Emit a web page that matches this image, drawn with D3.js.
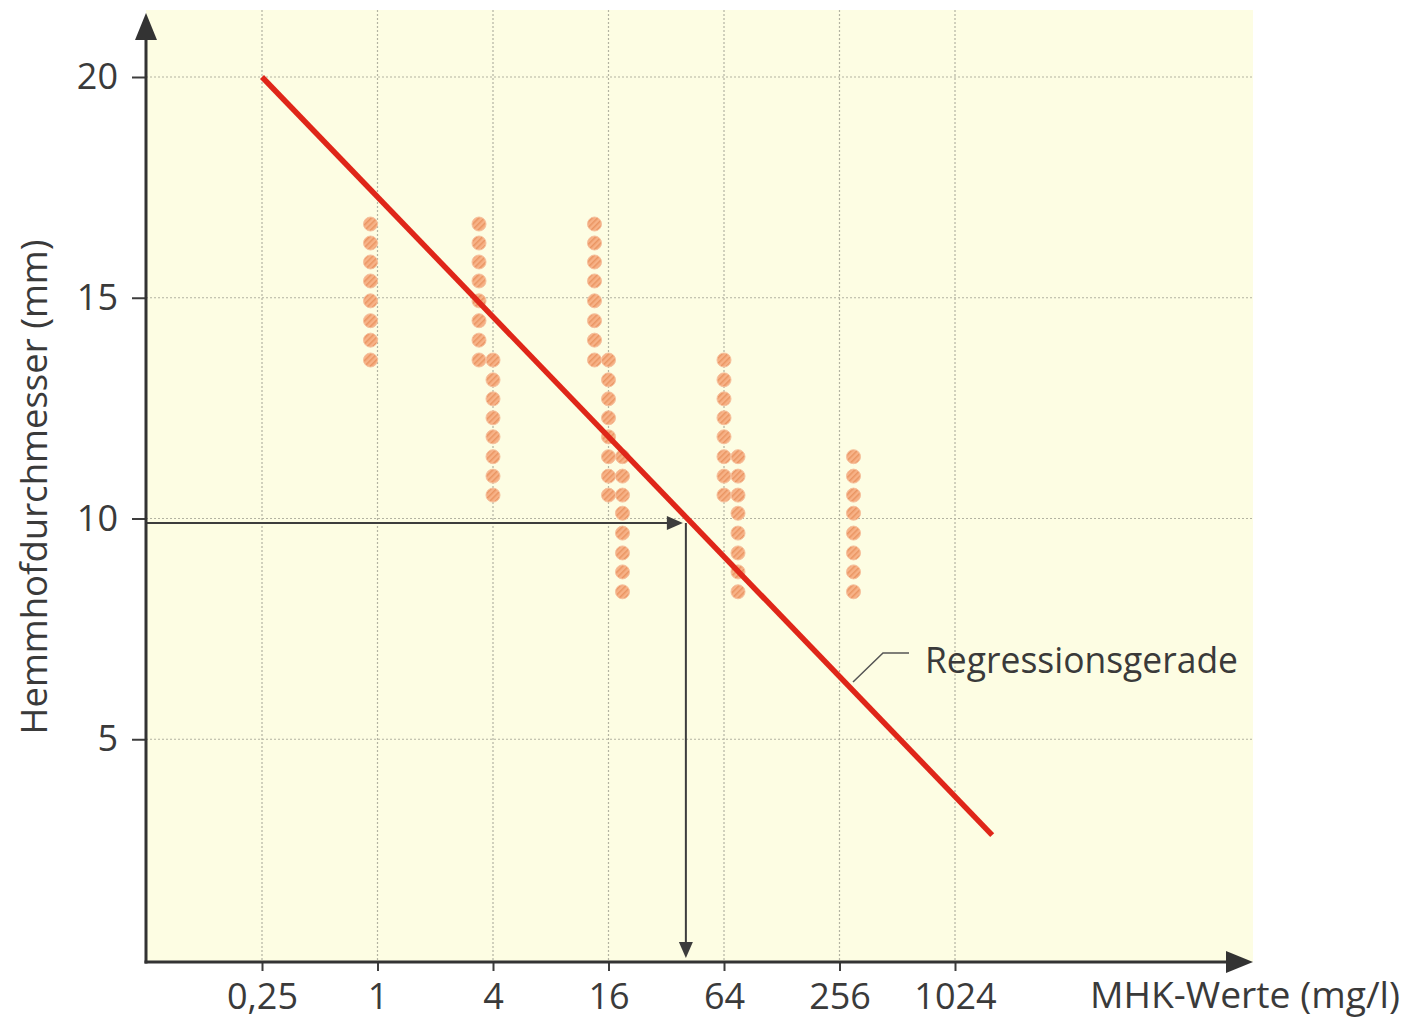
<!DOCTYPE html>
<html>
<head>
<meta charset="utf-8">
<script src="https://cdn.jsdelivr.net/npm/d3@7"></script>
<style>
  html, body { margin: 0; padding: 0; background: #fff; }
  svg { display: block; }
  text { font-family: "Open Sans", "Noto Sans", sans-serif; fill: #3a3a3a; }
</style>
</head>
<body>
<div id="chart"></div>
<script>
// tick values
const mhkTicks = [0.25, 1, 4, 16, 64, 256, 1024]
const diameterTicks = [5, 10, 15, 20]

// dot columns: MHK value, sub-lane beside the gridline, inhibition zone diameters (mm)
const columnMhk = [1, 4, 4, 16, 16, 16, 64, 64, 256]
const columnLane = [-0.5, -1, 0, -1, 0, 1, 0, 1, 1]
const columnDiameters = [
    [16.67, 16.24, 15.81, 15.38, 14.93, 14.48, 14.04, 13.59],
    [16.67, 16.24, 15.81, 15.38, 14.93, 14.48, 14.04, 13.59],
    [13.59, 13.14, 12.71, 12.28, 11.85, 11.40, 10.96, 10.53],
    [16.67, 16.24, 15.81, 15.38, 14.93, 14.48, 14.04, 13.59],
    [13.59, 13.14, 12.71, 12.28, 11.85, 11.40, 10.96, 10.53],
    [11.40, 10.96, 10.53, 10.12, 9.67, 9.22, 8.79, 8.34],
    [13.59, 13.14, 12.71, 12.28, 11.85, 11.40, 10.96, 10.53],
    [11.40, 10.96, 10.53, 10.12, 9.67, 9.22, 8.79, 8.34],
    [11.40, 10.96, 10.53, 10.12, 9.67, 9.22, 8.79, 8.34]
]

// regression line end points
const regressionMhk = [0.25, 1600]
const regressionDiameter = [20, 2.83]

// reading example
const readMhk = 40.5
const readDiameter = 9.9

const width = 1407
const height = 1021
const axisX = 146
const axisY = 962
const panelTop = 10
const panelRight = 1253

const x = d3.scaleLog().base(2)
    .domain([0.25, 1024])
    .range([262, 955])

const y = d3.scaleLinear()
    .domain([0, 20])
    .range([960, 77])

const svg = d3.select("#chart")
    .append("svg")
        .attr("width", width)
        .attr("height", height)

// dot hatching
const defs = svg.append("defs")
const pat = defs.append("pattern")
    .attr("id", "hatch")
    .attr("patternUnits", "userSpaceOnUse")
    .attr("width", 4)
    .attr("height", 4)
    .attr("patternTransform", "rotate(45)")
pat.append("rect").attr("width", 4).attr("height", 4).attr("fill", "#f7b287")
pat.append("rect").attr("width", 1.5).attr("height", 4).attr("fill", "#ea9562")

// panel
svg.append("rect")
    .attr("x", axisX)
    .attr("y", panelTop)
    .attr("width", panelRight - axisX)
    .attr("height", axisY - panelTop)
    .attr("fill", "#fdfde3")

// grid
const grid = svg.append("g").attr("class", "grid")
    .attr("stroke", "#b3b3a2")
    .attr("stroke-width", 1.2)
    .attr("stroke-dasharray", "2,2")

grid.selectAll("line.v")
    .data(mhkTicks)
    .enter()
    .append("line")
    .attr("class", "v")
    .attr("x1", d => x(d)).attr("x2", d => x(d))
    .attr("y1", panelTop).attr("y2", axisY)

grid.selectAll("line.h")
    .data(diameterTicks)
    .enter()
    .append("line")
    .attr("class", "h")
    .attr("x1", axisX).attr("x2", panelRight)
    .attr("y1", d => y(d)).attr("y2", d => y(d))

// dots
const dots = []
columnMhk.forEach((m, i) => {
    columnDiameters[i].forEach(d => dots.push({ mhk: m, lane: columnLane[i], d: d }))
})

svg.append("g")
        .attr("id", "dots")
    .selectAll("circle")
    .data(dots)
    .enter()
    .append("circle")
    .attr("cx", d => x(d.mhk) + d.lane * 14)
    .attr("cy", d => y(d.d))
    .attr("r", 7)
    .attr("fill", "url(#hatch)")
    .attr("stroke", "#f6c09c")
    .attr("stroke-width", 1)

// reading arrows
const ink = "#3d3d3d"
const rx = x(readMhk)
const ry = y(readDiameter)

svg.append("line")
    .attr("x1", axisX).attr("x2", rx - 14)
    .attr("y1", ry).attr("y2", ry)
    .attr("stroke", ink).attr("stroke-width", 2)
svg.append("path")
    .attr("d", `M${rx - 3},${ry} L${rx - 19},${ry - 7} L${rx - 19},${ry + 7} Z`)
    .attr("fill", ink)

svg.append("line")
    .attr("x1", rx).attr("x2", rx)
    .attr("y1", ry).attr("y2", axisY - 16)
    .attr("stroke", ink).attr("stroke-width", 2)
svg.append("path")
    .attr("d", `M${rx},${axisY - 4} L${rx - 7},${axisY - 20} L${rx + 7},${axisY - 20} Z`)
    .attr("fill", ink)

// regression line
svg.append("line")
    .attr("x1", x(regressionMhk[0])).attr("y1", y(regressionDiameter[0]))
    .attr("x2", x(regressionMhk[1])).attr("y2", y(regressionDiameter[1]))
    .attr("stroke", "#df2619")
    .attr("stroke-width", 5.5)

// label leader
const lx = 853, ly = 682
svg.append("path")
    .attr("d", `M${lx},${ly} L${lx + 30},${ly - 29} L${lx + 56},${ly - 29}`)
    .attr("fill", "none")
    .attr("stroke", "#555")
    .attr("stroke-width", 1.5)
svg.append("text")
    .attr("x", 925)
    .attr("y", 673)
    .attr("font-size", 37)
    .attr("textLength", 313)
    .attr("lengthAdjust", "spacingAndGlyphs")
    .text("Regressionsgerade")

// axes
const xAxis = d3.axisBottom(x)
    .tickValues(mhkTicks)
    .tickSize(9)
    .tickPadding(12)
    .tickFormat(d => d < 1 ? String(d).replace(".", ",") : String(d))

const gx = svg.append("g")
    .attr("transform", `translate(0,${axisY})`)
    .call(xAxis)
gx.select(".domain").remove()
gx.selectAll(".tick line").attr("stroke", ink).attr("stroke-width", 2)
gx.selectAll(".tick text")
    .attr("font-size", 36)
    .attr("font-family", null)
    .attr("fill", "#3a3a3a")

const yAxis = d3.axisLeft(y)
    .tickValues(diameterTicks)
    .tickSize(14)
    .tickPadding(14)

const gy = svg.append("g")
    .attr("transform", `translate(${axisX},0)`)
    .call(yAxis)
gy.select(".domain").remove()
gy.selectAll(".tick line").attr("stroke", ink).attr("stroke-width", 2)
gy.selectAll(".tick text")
    .attr("font-size", 36)
    .attr("font-family", null)
    .attr("fill", "#3a3a3a")

// axis lines with arrow heads
svg.append("line")
    .attr("x1", axisX).attr("x2", axisX)
    .attr("y1", axisY + 1.5).attr("y2", 36)
    .attr("stroke", "#333").attr("stroke-width", 3)
svg.append("path")
    .attr("d", `M${axisX},13 L${axisX - 11},40 L${axisX + 11},40 Z`)
    .attr("fill", "#333")

svg.append("line")
    .attr("x1", axisX - 1.5).attr("x2", panelRight - 22)
    .attr("y1", axisY).attr("y2", axisY)
    .attr("stroke", "#333").attr("stroke-width", 3)
svg.append("path")
    .attr("d", `M${panelRight},${axisY} L${panelRight - 27},${axisY - 11} L${panelRight - 27},${axisY + 11} Z`)
    .attr("fill", "#333")

// axis titles
svg.append("text")
    .attr("x", 1400)
    .attr("y", 1008)
    .attr("text-anchor", "end")
    .attr("font-size", 36)
    .attr("textLength", 310)
    .attr("lengthAdjust", "spacingAndGlyphs")
    .text("MHK-Werte (mg/l)")

svg.append("text")
    .attr("transform", "translate(47,487) rotate(-90)")
    .attr("text-anchor", "middle")
    .attr("font-size", 37)
    .attr("textLength", 495)
    .attr("lengthAdjust", "spacingAndGlyphs")
    .text("Hemmhofdurchmesser (mm)")
</script>
</body>
</html>
